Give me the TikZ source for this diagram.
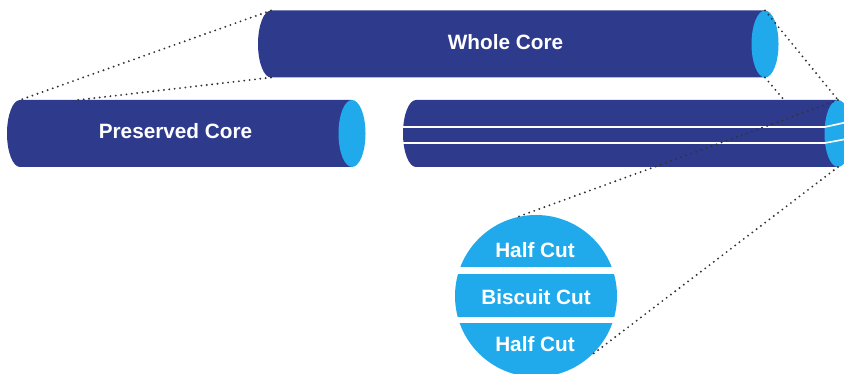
\documentclass[tikz,border=0pt]{standalone}
\usepackage{fontspec}
\setmainfont{Liberation Sans}
\definecolor{coreBlue}{RGB}{46,59,141}
\definecolor{cutBlue}{RGB}{32,170,236}

\begin{document}
\begin{tikzpicture}
[x=0.03cm,y=0.03cm,%
  coreBody/.style={fill=coreBlue},%
  coreEnd/.style={fill=cutBlue},%
  cutLine/.style={draw=white,line width=1.4pt},%
  bandGap/.style={draw=white,line width=0.19cm},%
  dotLine/.style={line width=1.8pt,line cap=round,dash pattern=on 0pt off 4.6pt,black!80},%
  labelText/.style={text=white,font=\fontsize{17.7}{20}\selectfont\bfseries,inner sep=0pt}]
\useasboundingbox (0,0) rectangle (844,374);
%% cores: name / left x / right x / centre y
\foreach \name/\xl/\xr/\yc in {
  whole/271/765/330, kept/20/352/240.5, split/416/838/240.5}
{
  \fill[coreBody] (\xr,{\yc+33.5}) -- (\xl,{\yc+33.5})
    arc[start angle=90,end angle=270,x radius=13,y radius=33.5]
    -- (\xr,{\yc-33.5}) -- cycle;
  \fill[coreEnd] (\xr,\yc) ellipse [x radius=13.5,y radius=33.5];
  \coordinate (\name-tl) at (\xl,{\yc+33.5});
  \coordinate (\name-bl) at (\xl,{\yc-33.5});
  \coordinate (\name-te) at (\xr,{\yc+33.5});
  \coordinate (\name-be) at (\xr,{\yc-33.5});
}
%% cut lines along the split core
\foreach \y/\dy in {247/6, 231/5}
{
  \draw[cutLine] (403,\y) -- (825,\y) -- (852,\y+\dy);
}
%% slice of the core
\node (slice) at (536,78) [circle,fill=cutBlue,inner sep=0pt,minimum size=4.86cm] {};
\foreach \y in {103.5, 54}
{
  \draw[bandGap] (450,\y) -- (622,\y);
}
%% labels
\node (wholeLabel) at (505.5,332) [labelText] {Whole Core};
\node (keptLabel) at (175.5,243) [labelText] {Preserved Core};
\node (halfTop) at (535,124) [labelText] {Half Cut};
\node (biscuit) at (536,77) [labelText] {Biscuit Cut};
\node (halfBottom) at (535,30) [labelText] {Half Cut};
%% dotted guide lines
\coordinate (keptMark) at (78,274);
\coordinate (splitMark) at (784,274);
\path
\foreach \startnode/\endnode in {whole-tl/kept-tl, whole-bl/keptMark,
  whole-te/split-te, whole-be/splitMark, split-te/slice.103, split-be/slice.-46}
{
  (\startnode) edge[dotLine] (\endnode)
};
\end{tikzpicture}
\end{document}
